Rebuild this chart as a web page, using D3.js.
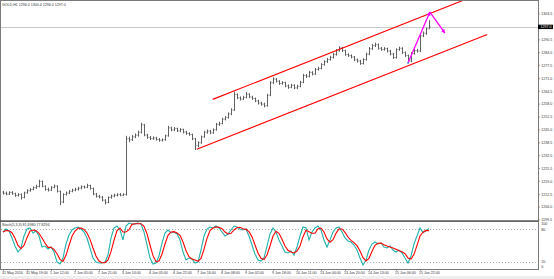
<!DOCTYPE html>
<html>
<head>
<meta charset="utf-8">
<script src="https://cdn.jsdelivr.net/npm/d3@7"></script>
<style>
	body { margin: 0; background: #fff; }
	svg { display: block; font-family: "Liberation Sans", Arial, sans-serif; }
</style>
</head>
<body>
<svg id="chart" width="554" height="279"></svg>
<script>
const symbol = "GOLD,H1"
const firstOpen = 1213.6

// closing prices, one per bar (open = previous close)
const closes = [
	1213.0, 1212.6, 1213.4, 1212.8, 1211.9, 1212.4, 1210.8, 1213.2, 1214.3, 1214.9,
	1215.8, 1216.4, 1219.0, 1216.5, 1215.0, 1214.6, 1216.0, 1216.6, 1214.0, 1208.6,
	1212.4, 1213.1, 1214.0, 1214.6, 1215.0, 1215.6, 1216.3, 1216.0, 1216.9, 1215.4,
	1212.6, 1211.5, 1211.1, 1209.5, 1208.4, 1210.9, 1211.6, 1212.0, 1212.3, 1212.0,
	1212.4, 1240.5, 1240.0, 1241.5, 1242.3, 1243.8, 1247.6, 1242.4, 1241.2, 1240.6,
	1240.9, 1240.2, 1239.8, 1240.0, 1242.0, 1246.0, 1245.0, 1245.6, 1244.5, 1245.2,
	1243.9, 1243.2, 1242.7, 1240.5, 1237.0, 1238.5, 1241.5, 1243.8, 1244.4, 1243.5,
	1245.0, 1247.8, 1248.2, 1250.4, 1251.2, 1253.0, 1255.0, 1262.8, 1261.2, 1260.6,
	1261.4, 1263.0, 1261.6, 1260.8, 1259.6, 1258.5, 1258.0, 1257.2, 1262.5, 1268.8,
	1270.6, 1269.6, 1268.4, 1268.9, 1267.2, 1266.5, 1267.5, 1266.2, 1267.0, 1269.0,
	1272.5, 1272.0, 1274.0, 1273.2, 1275.5, 1276.0, 1278.0, 1279.4, 1280.5, 1281.6,
	1283.0, 1285.0, 1286.4, 1285.0, 1283.0, 1282.5, 1281.8, 1280.4, 1279.8, 1278.5,
	1280.5, 1283.2, 1286.0, 1287.5, 1288.0, 1286.2, 1285.6, 1286.0, 1284.8, 1283.3,
	1281.5, 1285.5, 1286.2, 1284.0, 1282.5, 1279.8, 1283.5, 1285.0, 1284.8, 1292.5,
	1293.8, 1296.0, 1297.0
]

const highs = [
	1214.2, 1213.8, 1214.0, 1214.1, 1213.3, 1213.0, 1212.9, 1213.8, 1215.0, 1215.6,
	1216.4, 1217.3, 1219.8, 1219.4, 1217.0, 1215.8, 1216.6, 1217.4, 1217.0, 1214.4,
	1213.0, 1213.9, 1214.6, 1215.3, 1215.8, 1216.3, 1217.0, 1216.9, 1217.8, 1217.3,
	1215.9, 1213.2, 1212.2, 1211.6, 1210.0, 1211.4, 1212.3, 1212.8, 1213.0, 1213.1,
	1213.0, 1242.0, 1241.6, 1242.4, 1243.2, 1244.6, 1248.6, 1248.0, 1243.0, 1241.9,
	1241.7, 1241.5, 1240.9, 1240.7, 1242.6, 1247.0, 1246.6, 1246.4, 1246.1, 1245.9,
	1245.6, 1244.5, 1243.8, 1243.1, 1240.9, 1239.2, 1242.1, 1244.5, 1245.2, 1245.0,
	1245.7, 1248.5, 1249.1, 1251.1, 1252.0, 1253.8, 1255.9, 1264.3, 1263.4, 1261.9,
	1262.2, 1264.1, 1263.5, 1262.2, 1261.3, 1260.2, 1259.2, 1258.7, 1263.2, 1269.6,
	1271.5, 1271.2, 1270.1, 1269.6, 1269.3, 1267.9, 1268.2, 1268.0, 1267.8, 1269.7,
	1273.3, 1273.2, 1274.8, 1274.6, 1276.2, 1276.9, 1278.7, 1280.1, 1281.3, 1282.4,
	1283.8, 1285.8, 1287.2, 1286.9, 1285.5, 1283.7, 1283.1, 1282.3, 1281.0, 1280.4,
	1281.2, 1284.0, 1286.8, 1288.3, 1289.0, 1288.6, 1286.9, 1286.8, 1286.5, 1285.4,
	1283.8, 1286.2, 1287.0, 1286.7, 1284.6, 1283.0, 1284.2, 1285.8, 1285.9, 1293.4,
	1294.7, 1296.6, 1300.4
]

const lows = [
	1212.3, 1212.0, 1212.1, 1212.2, 1211.2, 1211.4, 1209.8, 1210.5, 1212.8, 1213.8,
	1214.5, 1215.2, 1216.0, 1216.0, 1214.3, 1213.9, 1214.2, 1215.5, 1213.4, 1207.0,
	1208.0, 1211.8, 1212.6, 1213.5, 1214.0, 1214.4, 1215.0, 1215.4, 1215.6, 1214.8,
	1212.0, 1210.8, 1210.4, 1208.9, 1207.3, 1208.0, 1210.3, 1211.0, 1211.4, 1211.5,
	1211.6, 1211.8, 1238.8, 1239.4, 1240.8, 1241.6, 1243.2, 1241.8, 1240.5, 1239.9,
	1240.0, 1239.6, 1239.0, 1239.1, 1239.5, 1241.6, 1244.3, 1244.4, 1243.9, 1243.8,
	1243.2, 1242.5, 1242.0, 1239.8, 1234.8, 1236.2, 1238.0, 1241.0, 1243.1, 1242.8,
	1243.0, 1244.6, 1247.0, 1247.8, 1249.8, 1250.7, 1252.4, 1254.6, 1260.5, 1259.8,
	1260.0, 1260.9, 1261.0, 1260.1, 1259.0, 1257.8, 1257.2, 1256.4, 1256.8, 1262.0,
	1268.2, 1268.9, 1267.7, 1267.8, 1266.5, 1265.7, 1266.0, 1265.5, 1265.6, 1266.5,
	1268.6, 1271.2, 1271.5, 1272.5, 1272.8, 1274.9, 1275.5, 1277.4, 1278.8, 1280.0,
	1281.0, 1282.5, 1284.5, 1284.3, 1282.4, 1281.8, 1281.1, 1279.7, 1279.0, 1277.8,
	1278.0, 1280.0, 1282.7, 1285.4, 1286.8, 1285.5, 1284.9, 1285.0, 1284.1, 1282.6,
	1280.8, 1281.0, 1284.9, 1283.4, 1281.8, 1278.6, 1279.2, 1283.0, 1284.0, 1284.3,
	1291.8, 1293.0, 1296.0
]

// Stochastic %K (main line); %D is its 3-bar average
const stochMain = [
	75.2, 80.7, 77.1, 64.2, 49.5, 38.5, 45.9, 67.9, 80.7, 82.6,
	73.4, 77.1, 67.9, 47.7, 49.5, 44.0, 47.7, 38.5, 20.2, 16.5,
	27.5, 53.2, 69.7, 78.9, 82.6, 84.4, 80.7, 75.2, 64.2, 45.9,
	27.5, 20.2, 18.3, 18.3, 20.2, 33.0, 64.2, 82.6, 86.2, 78.9,
	60.6, 86.2, 91.7, 89.9, 89.9, 91.7, 89.9, 75.2, 51.4, 27.5,
	16.5, 18.3, 31.2, 55.0, 73.4, 78.9, 73.4, 75.2, 71.6, 60.6,
	38.5, 23.9, 27.5, 25.7, 18.3, 20.2, 42.2, 67.9, 80.7, 84.4,
	82.6, 86.2, 82.6, 75.2, 67.9, 71.6, 78.9, 86.2, 84.4, 80.7,
	78.9, 80.7, 67.9, 51.4, 34.9, 23.9, 22.0, 27.5, 49.5, 71.6,
	82.6, 75.2, 60.6, 49.5, 38.5, 36.7, 40.4, 33.0, 47.7, 67.9,
	84.4, 82.6, 60.6, 75.2, 82.6, 86.2, 78.9, 60.6, 47.7, 60.6,
	75.2, 82.6, 84.4, 75.2, 64.2, 58.7, 56.9, 51.4, 42.2, 27.5,
	14.7, 23.9, 42.2, 53.2, 56.9, 53.2, 55.0, 47.7, 45.9, 49.5,
	42.2, 38.5, 42.2, 36.7, 27.5, 18.3, 31.2, 53.2, 67.9, 82.6,
	74.0, 77.7903, 81.698
]

const priceTicks = [
	1303.5, 1290.5, 1284.0, 1277.5, 1271.0, 1264.5, 1258.0, 1251.5,
	1245.0, 1238.5, 1232.0, 1225.5, 1219.0, 1212.5, 1206.0, 1199.5
]
const stochLevels = [80, 20]

const timeTicks = [0, 8, 16, 24, 32, 40, 49, 57, 65, 73, 81, 90, 98, 106, 114, 122, 131, 139]
const timeLabels = [
	"31 May 2016", "31 May 19:00", "1 Jun 12:00", "2 Jun 05:00", "2 Jun 21:00",
	"3 Jun 14:00", "6 Jun 05:00", "6 Jun 22:00", "7 Jun 16:00", "8 Jun 08:00",
	"9 Jun 02:00", "9 Jun 18:00", "10 Jun 11:00", "13 Jun 04:00", "13 Jun 20:00",
	"14 Jun 13:00", "15 Jun 06:00", "15 Jun 22:00"
]

// hand drawn objects: [bar index, price]
const channelLower = [[64.6, 1235.2], [161.4, 1293.2]]
const channelUpper = [[69.9, 1260.4], [161.4, 1315.2]]
const arrowUp = [[135, 1278.8], [142.3, 1304.5]]
const arrowDown = [[142.3, 1304.5], [147.3, 1293.9]]

/**
 * Layout of the two panes
 */
const axisX = 538
const mainTop = 1
const mainBottom = 220
const stochTop = 222
const stochBottom = 269
const fontSize = 3.6
const textColour = "#333"

const colours = {
	bar: "#505050",
	frame: "#7a7a7a",
	bid: "#c8c8c8",
	channel: "#ff0000",
	arrow: "#ff00ff",
	main: "#20b2aa",
	signal: "#ff0000"
}

const bars = closes.map((c, i) => ({
	i,
	open: i ? closes[i - 1] : firstOpen,
	high: highs[i],
	low: lows[i],
	close: c
}))
const last = bars[bars.length - 1]

const stochSignal = stochMain.map((v, i) => d3.mean(stochMain.slice(Math.max(0, i - 2), i + 1)))

const x = d3
	.scaleLinear()
	.domain([0, bars.length - 1])
	.range([3, 3 + 3 * (bars.length - 1)])

const y = d3.scaleLinear().domain([1199.5, 1303.5]).range([mainBottom, 14])
const yStoch = d3.scaleLinear().domain([0, 100]).range([273, 218.5])

const svg = d3.select("#chart")

const defs = svg.append("defs")
defs
	.append("clipPath")
	.attr("id", "clip-main")
	.append("rect")
	.attr("x", 0)
	.attr("y", mainTop)
	.attr("width", axisX)
	.attr("height", mainBottom - mainTop)
defs
	.append("clipPath")
	.attr("id", "clip-stoch")
	.append("rect")
	.attr("x", 0)
	.attr("y", stochTop)
	.attr("width", axisX)
	.attr("height", stochBottom - stochTop)
defs
	.append("marker")
	.attr("id", "head")
	.attr("viewBox", "0 0 6 6")
	.attr("refX", 5.5)
	.attr("refY", 3)
	.attr("markerWidth", 4)
	.attr("markerHeight", 4)
	.attr("markerUnits", "userSpaceOnUse")
	.attr("orient", "auto")
	.append("path")
	.attr("d", "M0,0L6,3L0,6Z")
	.attr("fill", colours.arrow)

/**
 * Frame: window border, pane separator, right and bottom axis lines
 */
svg
	.append("rect")
	.attr("x", 0.5)
	.attr("y", 0.5)
	.attr("width", axisX)
	.attr("height", stochBottom)
	.attr("fill", "none")
	.attr("stroke", colours.frame)
svg
	.append("rect")
	.attr("x", 0)
	.attr("y", mainBottom + 0.3)
	.attr("width", axisX)
	.attr("height", 1.6)
	.attr("fill", "#555")
svg
	.append("rect")
	.attr("x", 0)
	.attr("y", 276)
	.attr("width", 554)
	.attr("height", 3)
	.attr("fill", "#eeeeee")

// bid line
svg
	.append("line")
	.attr("x1", 1)
	.attr("x2", axisX)
	.attr("y1", Math.round(y(last.close)) + 0.5)
	.attr("y2", Math.round(y(last.close)) + 0.5)
	.attr("stroke", colours.bid)

/**
 * OHLC bars
 */
const bar = svg
	.append("g")
	.attr("clip-path", "url(#clip-main)")
	.attr("stroke", colours.bar)
	.attr("stroke-width", 0.9)
	.selectAll(".bar")
	.data(bars)
	.enter()
	.append("path")
	.attr("class", "bar")
	.attr("d", (d) => {
		const cx = x(d.i) + 0.5
		return `M${cx},${y(d.high)}V${y(d.low)}M${cx - 1},${y(d.open)}H${cx}M${cx},${y(d.close)}H${cx + 1}`
	})

/**
 * Channel lines and the arrows drawn on top of the price
 */
const objLine = d3
	.line()
	.x((d) => x(d[0]))
	.y((d) => y(d[1]))

const objects = svg.append("g").attr("clip-path", "url(#clip-main)")
objects
	.selectAll(".channel")
	.data([channelUpper, channelLower])
	.enter()
	.append("path")
	.attr("class", "channel")
	.attr("d", objLine)
	.attr("fill", "none")
	.attr("stroke", colours.channel)
	.attr("stroke-width", 1.1)

objects
	.selectAll(".arrow")
	.data([arrowUp, arrowDown])
	.enter()
	.append("path")
	.attr("class", "arrow")
	.attr("d", objLine)
	.attr("fill", "none")
	.attr("stroke", colours.arrow)
	.attr("stroke-width", 1.3)
	.attr("marker-end", "url(#head)")

// anchor point of the selected arrow
objects
	.append("circle")
	.attr("cx", x(arrowUp[0][0]))
	.attr("cy", y(arrowUp[0][1]))
	.attr("r", 0.9)
	.attr("fill", "#3399ff")

/**
 * Stochastic pane
 */
const stoch = svg.append("g").attr("clip-path", "url(#clip-stoch)")
stoch
	.selectAll(".level")
	.data(stochLevels)
	.enter()
	.append("line")
	.attr("class", "level")
	.attr("x1", 1)
	.attr("x2", axisX)
	.attr("y1", (d) => Math.round(yStoch(d)) + 0.5)
	.attr("y2", (d) => Math.round(yStoch(d)) + 0.5)
	.attr("stroke", "#aaa")
	.attr("stroke-dasharray", "1,2")

const stochLine = d3
	.line()
	.x((d, i) => x(i))
	.y((d) => yStoch(d))

stoch
	.selectAll(".stoch")
	.data([
		{ values: stochMain, colour: colours.main },
		{ values: stochSignal, colour: colours.signal }
	])
	.enter()
	.append("path")
	.attr("class", "stoch")
	.attr("d", (d) => stochLine(d.values))
	.attr("fill", "none")
	.attr("stroke", (d) => d.colour)
	.attr("stroke-width", 1.1)

/**
 * Texts: titles, price scale, stochastic scale, time scale
 */
svg
	.append("text")
	.attr("x", 2)
	.attr("y", 5.6)
	.attr("font-size", fontSize)
	.attr("fill", textColour)
	.text(`${symbol}  ${last.open.toFixed(1)} ${last.high.toFixed(1)} ${last.low.toFixed(1)} ${last.close.toFixed(1)}`)

svg
	.append("text")
	.attr("x", 2)
	.attr("y", stochTop + 3.6)
	.attr("font-size", fontSize)
	.attr("fill", textColour)
	.text(`Stoch(5,3,3) ${stochMain[stochMain.length - 1].toFixed(4)} ${stochSignal[stochSignal.length - 1].toFixed(4)}`)

const priceTick = svg
	.selectAll(".price-tick")
	.data(priceTicks)
	.enter()
	.append("g")
	.attr("class", "price-tick")
	.attr("transform", (d) => `translate(${axisX},${y(d)})`)
priceTick
	.append("line")
	.attr("x1", 0.5)
	.attr("x2", 2)
	.attr("stroke", "#666")
	.attr("stroke-width", 0.6)
priceTick
	.append("text")
	.attr("x", 3.2)
	.attr("dy", "0.35em")
	.attr("font-size", fontSize)
	.attr("fill", textColour)
	.text((d) => d.toFixed(1))

// current price box
svg
	.append("rect")
	.attr("x", axisX)
	.attr("y", y(last.close) - 2.2)
	.attr("width", 15)
	.attr("height", 4.4)
	.attr("fill", "#000")
svg
	.append("text")
	.attr("x", axisX + 2.5)
	.attr("y", y(last.close))
	.attr("dy", "0.35em")
	.attr("font-size", fontSize)
	.attr("fill", "#fff")
	.text(last.close.toFixed(1))

const stochLabels = [
	{ text: "100", y: stochTop + 2.2 },
	...stochLevels.map((v) => ({ text: String(v), y: yStoch(v) })),
	{ text: "0", y: stochBottom - 2.2 }
]
svg
	.selectAll(".stoch-label")
	.data(stochLabels)
	.enter()
	.append("text")
	.attr("class", "stoch-label")
	.attr("x", axisX + 3.2)
	.attr("y", (d) => d.y)
	.attr("dy", "0.35em")
	.attr("font-size", fontSize)
	.attr("fill", textColour)
	.text((d) => d.text)

const timeTick = svg
	.selectAll(".time-tick")
	.data(timeTicks)
	.enter()
	.append("g")
	.attr("class", "time-tick")
	.attr("transform", (d) => `translate(${x(d)},${stochBottom})`)
timeTick
	.append("line")
	.attr("x1", 0.5)
	.attr("x2", 0.5)
	.attr("y1", 0.5)
	.attr("y2", 2)
	.attr("stroke", "#666")
	.attr("stroke-width", 0.6)
timeTick
	.append("text")
	.attr("x", -1)
	.attr("y", 5.4)
	.attr("font-size", fontSize)
	.attr("fill", textColour)
	.text((d, i) => timeLabels[i])
</script>
</body>
</html>
